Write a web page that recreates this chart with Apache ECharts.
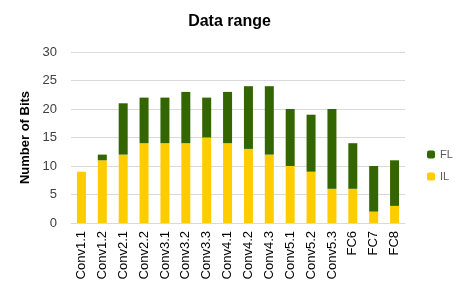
<!DOCTYPE html>
<html><head><meta charset="utf-8">
<script src="https://cdn.jsdelivr.net/npm/echarts@6/dist/echarts.min.js"></script>
<style>html,body{margin:0;padding:0;background:#fff}#c{width:459px;height:295px}</style>
</head><body><div id="c"></div>
<script>
const categories = ['Conv1.1','Conv1.2','Conv2.1','Conv2.2','Conv3.1','Conv3.2','Conv3.3','Conv4.1','Conv4.2','Conv4.3','Conv5.1','Conv5.2','Conv5.3','FC6','FC7','FC8'];
const IL = [9,11,12,14,14,14,15,14,13,12,10,9,6,6,2,3];
const FL = [0,1,9,8,8,9,7,9,11,12,10,10,14,8,8,8];
const yTicks = [0,5,10,15,20,25,30];

const font = 'Liberation Sans, Arial, sans-serif';
const chart = echarts.init(document.getElementById('c'), null, {renderer:'canvas'});
chart.setOption({
  animation:false,
  title:{text:'Data range', left:'center', top:9, textStyle:{fontFamily:font, fontSize:16, fontWeight:'bold', color:'#000'}},
  grid:{left:71, right:54, top:52, bottom:72},
  legend:{data:['FL','IL'], orient:'vertical', left:422, top:144, itemWidth:8, itemHeight:8, itemGap:11,
    textStyle:{fontFamily:font, fontSize:11, color:'#595959'}},
  xAxis:{type:'category', data:categories,
    axisLine:{lineStyle:{color:'#d9d9d9'}}, axisTick:{show:false},
    axisLabel:{rotate:90, interval:0, color:'#000', fontFamily:font, fontSize:13, margin:8}},
  yAxis:{type:'value', min:yTicks[0], max:yTicks[yTicks.length-1], interval:5,
    name:'Number of Bits', nameLocation:'middle', nameRotate:90, nameGap:37,
    nameTextStyle:{fontFamily:font, fontSize:13, fontWeight:'bold', color:'#000'},
    axisLine:{show:false}, axisTick:{show:false},
    axisLabel:{color:'#404040', fontFamily:font, fontSize:13, margin:14},
    splitLine:{lineStyle:{color:'#d9d9d9', width:1}}},
  series:[
    {name:'IL', type:'bar', stack:'t', data:IL, barWidth:9, itemStyle:{color:'#ffcc00'}},
    {name:'FL', type:'bar', stack:'t', data:FL, barWidth:9, itemStyle:{color:'#336600'}}
  ]
});
</script></body></html>
